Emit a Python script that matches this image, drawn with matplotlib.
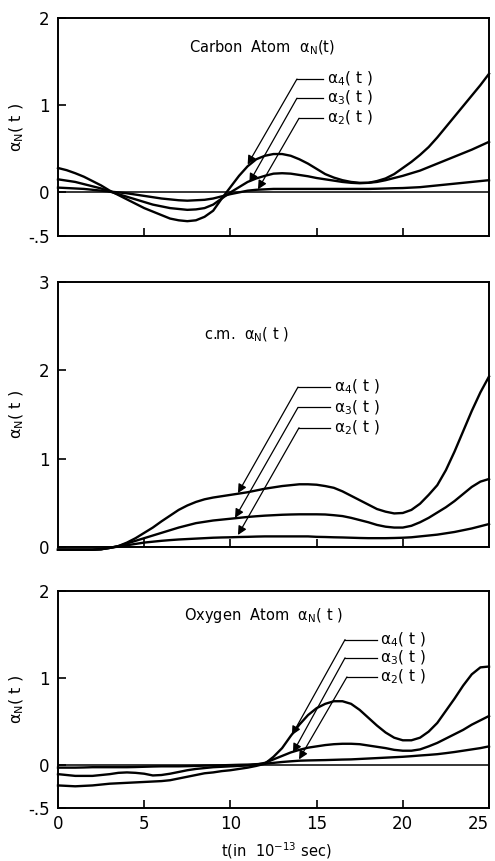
import matplotlib
matplotlib.use("Agg")
import matplotlib.pyplot as plt

plt.rcParams['font.family'] = ['DejaVu Sans']
plt.rcParams['mathtext.fontset'] = 'dejavusans'
plt.rcParams['mathtext.default'] = 'regular'

# time axis, in 1e-13 s (0, 0.5, ..., 25)
t = [i * 0.5 for i in range(51)]

# Carbon atom
carbon_a4 = [0.28, 0.255, 0.22, 0.18, 0.13, 0.08, 0.02, -0.03, -0.08, -0.13,
             -0.18, -0.22, -0.26, -0.30, -0.32, -0.33, -0.32, -0.28, -0.21, -0.07,
             0.06, 0.19, 0.30, 0.38, 0.42, 0.44, 0.44, 0.42, 0.38, 0.33,
             0.27, 0.21, 0.17, 0.14, 0.12, 0.11, 0.11, 0.13, 0.16, 0.21,
             0.28, 0.35, 0.43, 0.52, 0.63, 0.75, 0.87, 0.99, 1.11, 1.23, 1.36]
carbon_a3 = [0.15, 0.135, 0.12, 0.095, 0.07, 0.045, 0.01, -0.02, -0.05, -0.08,
             -0.11, -0.14, -0.16, -0.18, -0.19, -0.20, -0.195, -0.18, -0.14, -0.07,
             0.0, 0.06, 0.12, 0.16, 0.19, 0.215, 0.22, 0.215, 0.20, 0.185,
             0.165, 0.15, 0.135, 0.12, 0.11, 0.105, 0.11, 0.12, 0.14, 0.165,
             0.19, 0.22, 0.25, 0.29, 0.33, 0.37, 0.41, 0.45, 0.49, 0.535, 0.58]
carbon_a2 = [0.055, 0.05, 0.045, 0.04, 0.03, 0.02, 0.01, 0.0, -0.01, -0.025,
             -0.04, -0.055, -0.07, -0.08, -0.09, -0.095, -0.09, -0.085, -0.07, -0.045,
             -0.02, 0.0, 0.02, 0.03, 0.035, 0.04, 0.04, 0.04, 0.04, 0.04,
             0.04, 0.04, 0.04, 0.04, 0.04, 0.04, 0.04, 0.042, 0.045, 0.048,
             0.05, 0.055, 0.06, 0.07, 0.08, 0.09, 0.10, 0.11, 0.12, 0.13, 0.14]

# centre of mass
cm_a4 = [-0.03, -0.03, -0.03, -0.03, -0.03, -0.025, -0.01, 0.01, 0.05, 0.10,
         0.16, 0.22, 0.29, 0.355, 0.42, 0.47, 0.51, 0.54, 0.56, 0.575,
         0.59, 0.605, 0.62, 0.64, 0.66, 0.675, 0.69, 0.70, 0.71, 0.71,
         0.705, 0.69, 0.67, 0.63, 0.58, 0.53, 0.48, 0.43, 0.40, 0.38,
         0.385, 0.42, 0.49, 0.59, 0.70, 0.87, 1.08, 1.31, 1.54, 1.75, 1.93]
cm_a3 = [-0.03, -0.03, -0.03, -0.03, -0.03, -0.025, -0.01, 0.01, 0.04, 0.07,
         0.10, 0.13, 0.16, 0.19, 0.22, 0.245, 0.27, 0.285, 0.30, 0.31,
         0.32, 0.33, 0.34, 0.348, 0.355, 0.36, 0.365, 0.368, 0.37, 0.37,
         0.37, 0.368, 0.36, 0.35, 0.33, 0.305, 0.28, 0.25, 0.23, 0.22,
         0.22, 0.24, 0.28, 0.33, 0.39, 0.45, 0.52, 0.60, 0.68, 0.74, 0.77]
cm_a2 = [-0.03, -0.03, -0.03, -0.03, -0.03, -0.025, -0.01, 0.005, 0.02, 0.035,
         0.05, 0.06, 0.07, 0.078, 0.085, 0.09, 0.095, 0.10, 0.105, 0.108,
         0.11, 0.113, 0.115, 0.118, 0.12, 0.12, 0.12, 0.12, 0.12, 0.12,
         0.115, 0.113, 0.11, 0.108, 0.105, 0.102, 0.10, 0.10, 0.10, 0.102,
         0.105, 0.11, 0.12, 0.13, 0.14, 0.155, 0.17, 0.19, 0.21, 0.235, 0.26]

# Oxygen atom
oxy_a4 = [-0.24, -0.245, -0.25, -0.245, -0.24, -0.23, -0.22, -0.215, -0.21, -0.205,
          -0.20, -0.195, -0.19, -0.18, -0.16, -0.14, -0.12, -0.10, -0.09, -0.075,
          -0.065, -0.05, -0.035, -0.015, 0.01, 0.09, 0.19, 0.33, 0.46, 0.57,
          0.65, 0.70, 0.73, 0.73, 0.70, 0.63, 0.54, 0.45, 0.37, 0.31,
          0.28, 0.28, 0.31, 0.38, 0.48, 0.62, 0.76, 0.91, 1.04, 1.12, 1.13]
oxy_a3 = [-0.11, -0.12, -0.13, -0.13, -0.13, -0.12, -0.11, -0.095, -0.09, -0.095,
          -0.105, -0.125, -0.12, -0.105, -0.085, -0.065, -0.05, -0.04, -0.03, -0.025,
          -0.02, -0.015, -0.01, 0.0, 0.02, 0.06, 0.10, 0.14, 0.17, 0.195,
          0.21, 0.225, 0.235, 0.24, 0.24, 0.235, 0.22, 0.205, 0.19, 0.17,
          0.16, 0.16, 0.175, 0.21, 0.25, 0.30, 0.35, 0.40, 0.46, 0.51, 0.56]
oxy_a2 = [-0.035, -0.035, -0.035, -0.033, -0.03, -0.03, -0.03, -0.03, -0.03, -0.028,
          -0.025, -0.022, -0.02, -0.02, -0.02, -0.018, -0.015, -0.012, -0.01, -0.008,
          -0.005, -0.002, 0.0, 0.005, 0.01, 0.02, 0.03, 0.038, 0.045, 0.048,
          0.05, 0.052, 0.055, 0.058, 0.06, 0.065, 0.07, 0.075, 0.08, 0.085,
          0.09, 0.097, 0.105, 0.112, 0.12, 0.132, 0.145, 0.16, 0.175, 0.19, 0.21]

panel_titles = [r"Carbon  Atom  $\alpha_N$(t)", r"c.m.  $\alpha_N$( t )", r"Oxygen  Atom  $\alpha_N$( t )"]
series_labels = [r"$\alpha_4$( t )", r"$\alpha_3$( t )", r"$\alpha_2$( t )"]
x_ticks = [0, 5, 10, 15, 20, 25]
x_ticklabels = ["0", "5", "10", "15", "20", "25"]

fig = plt.figure(figsize=(4.95, 8.61), dpi=100)

W, H = 495, 861
def rect(left, top, right, bottom):
    return [left / W, 1 - bottom / H, (right - left) / W, (bottom - top) / H]

axes_rects = [rect(58, 18, 489, 236), rect(58, 282, 489, 547), rect(58, 591, 489, 808)]
ylims = [(-0.5, 2), (0, 3), (-0.5, 2)]
yticks = [[-0.5, 0, 1, 2], [0, 1, 2, 3], [-0.5, 0, 1, 2]]
yticklabels = [["-.5", "0", "1", "2"], ["0", "1", "2", "3"], ["-.5", "0", "1", "2"]]
data = [(carbon_a4, carbon_a3, carbon_a2), (cm_a4, cm_a3, cm_a2), (oxy_a4, oxy_a3, oxy_a2)]
title_pos = [(0.305, 0.865), (0.338, 0.80), (0.292, 0.888)]

# annotation geometry (data coords): text x, label y's, corner x's, tip points
ann = [
    dict(tx=15.6, ys=[1.30, 1.08, 0.85], cx=[13.86, 13.86, 13.98],
         tips=[(11.0, 0.32), (11.1, 0.115), (11.6, 0.035)]),
    dict(tx=16.0, ys=[1.81, 1.58, 1.35], cx=[13.92, 13.92, 13.98],
         tips=[(10.44, 0.61), (10.27, 0.33), (10.44, 0.136)]),
    dict(tx=18.7, ys=[1.44, 1.23, 1.01], cx=[16.65, 16.65, 16.76],
         tips=[(13.57, 0.34), (13.63, 0.14), (13.98, 0.06)]),
]

for i, ax_r in enumerate(axes_rects):
    ax = fig.add_axes(ax_r)
    ax.set_xlim(0, 25)
    ax.set_ylim(*ylims[i])
    for s in ax.spines.values():
        s.set_linewidth(1.4)
    ax.axhline(0, color='k', lw=1.1)
    for series in data[i]:
        ax.plot(t, series, color='k', lw=1.7, clip_on=False, solid_joinstyle='round')
    ax.set_xticks(x_ticks[1:-1] if i < 2 else x_ticks)
    if i < 2:
        ax.set_xticklabels([])
    else:
        ax.set_xticklabels(x_ticklabels)
        lbls = ax.get_xticklabels()
        lbls[-1].set_horizontalalignment('right')
    ax.tick_params(axis='x', direction='in', length=6, width=1.2, labelsize=12, pad=5, top=False)
    ax.set_yticks(yticks[i])
    ax.set_yticklabels(yticklabels[i])
    ax.tick_params(axis='y', direction='in', length=6, width=1.2, labelsize=12, pad=6, right=False)
    ax.set_ylabel(r"$\alpha_N$( t )", fontsize=11.5)
    ax.yaxis.set_label_coords(-0.075, 0.5)
    ax.text(title_pos[i][0], title_pos[i][1], panel_titles[i], transform=ax.transAxes,
            fontsize=10.5, va='center', ha='left')
    a = ann[i]
    for k in range(3):
        y = a['ys'][k]
        ax.plot([a['cx'][k], a['tx'] - 0.2], [y, y], color='k', lw=0.9)
        ax.annotate('', xy=a['tips'][k], xytext=(a['cx'][k], y),
                    arrowprops=dict(arrowstyle='-|>', color='k', lw=0.9, shrinkA=0, shrinkB=0,
                                    mutation_scale=13))
        ax.text(a['tx'], y, series_labels[k], fontsize=11, va='center', ha='left')

fig.text(276 / W, 1 - 851 / H, r"t(in  10$^{-13}$ sec)", fontsize=10.5, ha='center', va='center')

fig.savefig("out.png", dpi=100)
